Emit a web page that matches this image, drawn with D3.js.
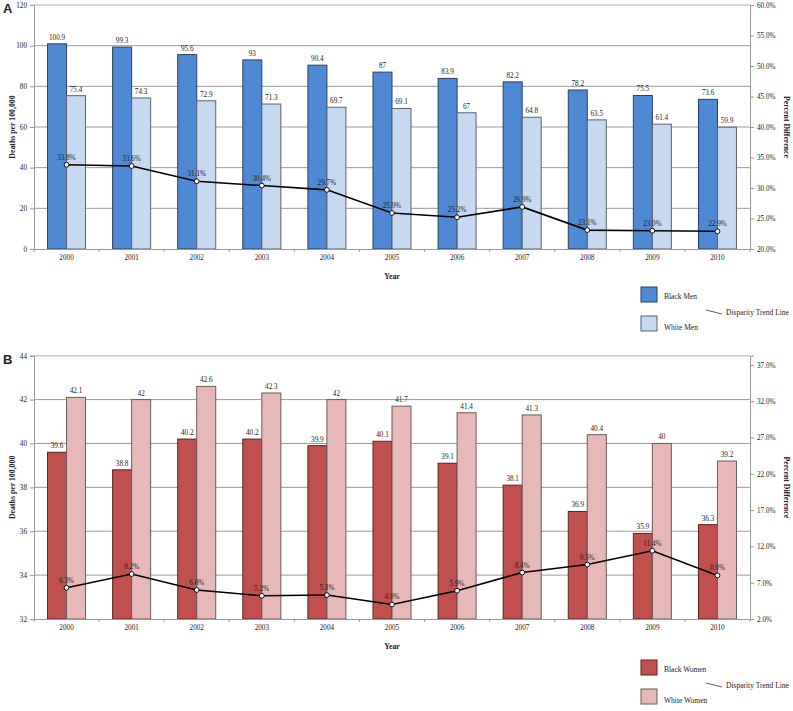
<!DOCTYPE html>
<html><head><meta charset="utf-8">
<script src="https://cdn.jsdelivr.net/npm/d3@7"></script>
<style>
body{margin:0;background:#fff;}
svg text{font-family:"Liberation Serif","Times New Roman",serif;fill:#222;}
</style></head>
<body><svg id="c" width="793" height="711"></svg>
<script>
const years = ["2000","2001","2002","2003","2004","2005","2006","2007","2008","2009","2010"];
const blackMen = [100.9,99.3,95.6,93,90.4,87,83.9,82.2,78.2,75.5,73.6];
const whiteMen = [75.4,74.3,72.9,71.3,69.7,69.1,67,64.8,63.5,61.4,59.9];
const menDisparity = [33.8,33.6,31.1,30.4,29.7,25.9,25.2,26.9,23.1,23.0,22.9];
const blackWomen = [39.6,38.8,40.2,40.2,39.9,40.1,39.1,38.1,36.9,35.9,36.3];
const whiteWomen = [42.1,42,42.6,42.3,42,41.7,41.4,41.3,40.4,40,39.2];
const womenDisparity = [6.3,8.2,6.0,5.2,5.3,4.0,5.9,8.4,9.5,11.4,8.0];
const menLeftTicks = [0,20,40,60,80,100,120];
const menRightTicks = [20,25,30,35,40,45,50,55,60];
const womenLeftTicks = [32,34,36,38,40,42,44];
const womenRightTicks = [2,7,12,17,22,27,32,37];

const svg = d3.select("#c");
const SERIF = "'Liberation Serif','Times New Roman',serif";

function panel(o){
  const g = svg.append("g");
  const x = d3.scaleBand().domain(years).range([34,750]).padding(0);
  const y = d3.scaleLinear().domain(o.leftDomain).range([o.bottom,o.top]);
  const y2 = d3.scaleLinear().domain(o.rightDomain).range([o.bottom,o.top]);
  const bw = x.bandwidth()*0.292;
  const cx = d => x(d)+x.bandwidth()/2;

  // gridlines
  g.selectAll(".grid").data(o.leftTicks.slice(1)).enter().append("line")
    .attr("x1",34).attr("x2",750).attr("y1",d=>y(d)).attr("y2",d=>y(d))
    .attr("stroke",(d,i,a)=>i===a.length-1?"#c8c8c8":"#9a9a9a").attr("stroke-width",(d,i,a)=>i===a.length-1?1.5:1);

  // bars
  g.selectAll(".b1").data(years).enter().append("rect")
    .attr("x",d=>cx(d)-bw).attr("width",bw)
    .attr("y",(d,i)=>y(o.s1[i])).attr("height",(d,i)=>o.bottom-y(o.s1[i]))
    .attr("fill",o.c1).attr("stroke",o.e1).attr("stroke-width",1);
  g.selectAll(".b2").data(years).enter().append("rect")
    .attr("x",d=>cx(d)).attr("width",bw)
    .attr("y",(d,i)=>y(o.s2[i])).attr("height",(d,i)=>o.bottom-y(o.s2[i]))
    .attr("fill",o.c2).attr("stroke",o.e2).attr("stroke-width",1);

  // value labels
  g.selectAll(".l1").data(years).enter().append("text")
    .attr("x",d=>cx(d)-bw/2).attr("y",(d,i)=>y(o.s1[i])-4)
    .attr("text-anchor","middle").attr("font-size",7.2).text((d,i)=>o.s1[i]);
  g.selectAll(".l2").data(years).enter().append("text")
    .attr("x",d=>cx(d)+bw/2).attr("y",(d,i)=>y(o.s2[i])-4)
    .attr("text-anchor","middle").attr("font-size",7.2).text((d,i)=>o.s2[i]);

  // axes
  const ax = g.append("g").attr("transform",`translate(0,${o.bottom})`)
    .call(d3.axisBottom(x).tickSize(0).tickPadding(6));
  ax.select(".domain").attr("stroke","#999");
  ax.selectAll("text").attr("font-size",7.2).style("font-family",SERIF);
  g.selectAll(".xt").data(d3.range(years.length+1)).enter().append("line")
    .attr("x1",i=>34+i*x.step()).attr("x2",i=>34+i*x.step())
    .attr("y1",o.bottom).attr("y2",o.bottom+3).attr("stroke","#999");

  const al = g.append("g").attr("transform","translate(34,0)")
    .call(d3.axisLeft(y).tickValues(o.leftTicks).tickSize(4).tickPadding(3));
  al.selectAll("path,line").attr("stroke","#999");
  al.selectAll("text").attr("font-size",7.2).style("font-family",SERIF);

  const ar = g.append("g").attr("transform","translate(750,0)")
    .call(d3.axisRight(y2).tickValues(o.rightTicks).tickSize(4).tickPadding(3).tickFormat(d=>d.toFixed(1)+"%"));
  ar.selectAll("path,line").attr("stroke","#999");
  ar.selectAll("text").attr("font-size",7.2).style("font-family",SERIF);

  // disparity line
  const line = d3.line().x((d,i)=>cx(years[i])).y(d=>y2(d));
  g.append("path").datum(o.d).attr("d",line).attr("fill","none").attr("stroke","#000").attr("stroke-width",1.6);
  g.selectAll(".pl").data(o.d).enter().append("text")
    .attr("x",(d,i)=>cx(years[i])).attr("y",d=>y2(d)-5)
    .attr("text-anchor","middle").attr("font-size",7.2).text(d=>d.toFixed(1)+"%");
  g.selectAll(".pt").data(o.d).enter().append("circle")
    .attr("cx",(d,i)=>cx(years[i])).attr("cy",d=>y2(d)).attr("r",2.4)
    .attr("fill","#fff").attr("stroke","#000").attr("stroke-width",0.9);

  // titles
  const mid = (o.top+o.bottom)/2;
  g.append("text").attr("transform",`translate(15,${mid}) rotate(-90)`).attr("text-anchor","middle")
    .attr("font-size",7.8).attr("font-weight","bold").text("Deaths per 100,000");
  g.append("text").attr("transform",`translate(784,${mid}) rotate(90)`).attr("text-anchor","middle")
    .attr("font-size",7.8).attr("font-weight","bold").text("Percent Difference");
  g.append("text").attr("x",392).attr("y",o.bottom+30).attr("text-anchor","middle")
    .attr("font-size",7.8).attr("font-weight","bold").text("Year");
  g.append("text").attr("x",3).attr("y",o.top+8).attr("font-size",13).attr("font-weight","bold")
    .style("font-family","'Liberation Sans', Arial, sans-serif").text(o.letter);

  // legend
  const L = o.legendY;
  g.append("rect").attr("x",641).attr("y",L).attr("width",16).attr("height",15).attr("fill",o.c1).attr("stroke",o.e1);
  g.append("rect").attr("x",641).attr("y",L+29).attr("width",16).attr("height",15).attr("fill",o.c2).attr("stroke",o.e2);
  g.append("text").attr("x",664).attr("y",L+12).attr("font-size",7.5).text(o.n1);
  g.append("text").attr("x",664).attr("y",L+43).attr("font-size",7.5).text(o.n2);
  g.append("line").attr("x1",706).attr("y1",L+23).attr("x2",722).attr("y2",L+27).attr("stroke","#333").attr("stroke-width",0.8);
  g.append("text").attr("x",726).attr("y",L+28).attr("font-size",7.5).text("Disparity Trend Line");
}

panel({top:5,bottom:249,leftDomain:[0,120],rightDomain:[20,60],leftTicks:menLeftTicks,rightTicks:menRightTicks,
  s1:blackMen,s2:whiteMen,d:menDisparity,c1:"#5089d3",e1:"#2b3f63",c2:"#c6d9f0",e2:"#5a6272",
  n1:"Black Men",n2:"White Men",letter:"A",legendY:287});
panel({top:355.7,bottom:619,leftDomain:[32,44],rightDomain:[2,38.27],leftTicks:womenLeftTicks,rightTicks:womenRightTicks,
  s1:blackWomen,s2:whiteWomen,d:womenDisparity,c1:"#c0504d",e1:"#5a2222",c2:"#e6b9b8",e2:"#6e5858",
  n1:"Black Women",n2:"White Women",letter:"B",legendY:660});
</script></body></html>
